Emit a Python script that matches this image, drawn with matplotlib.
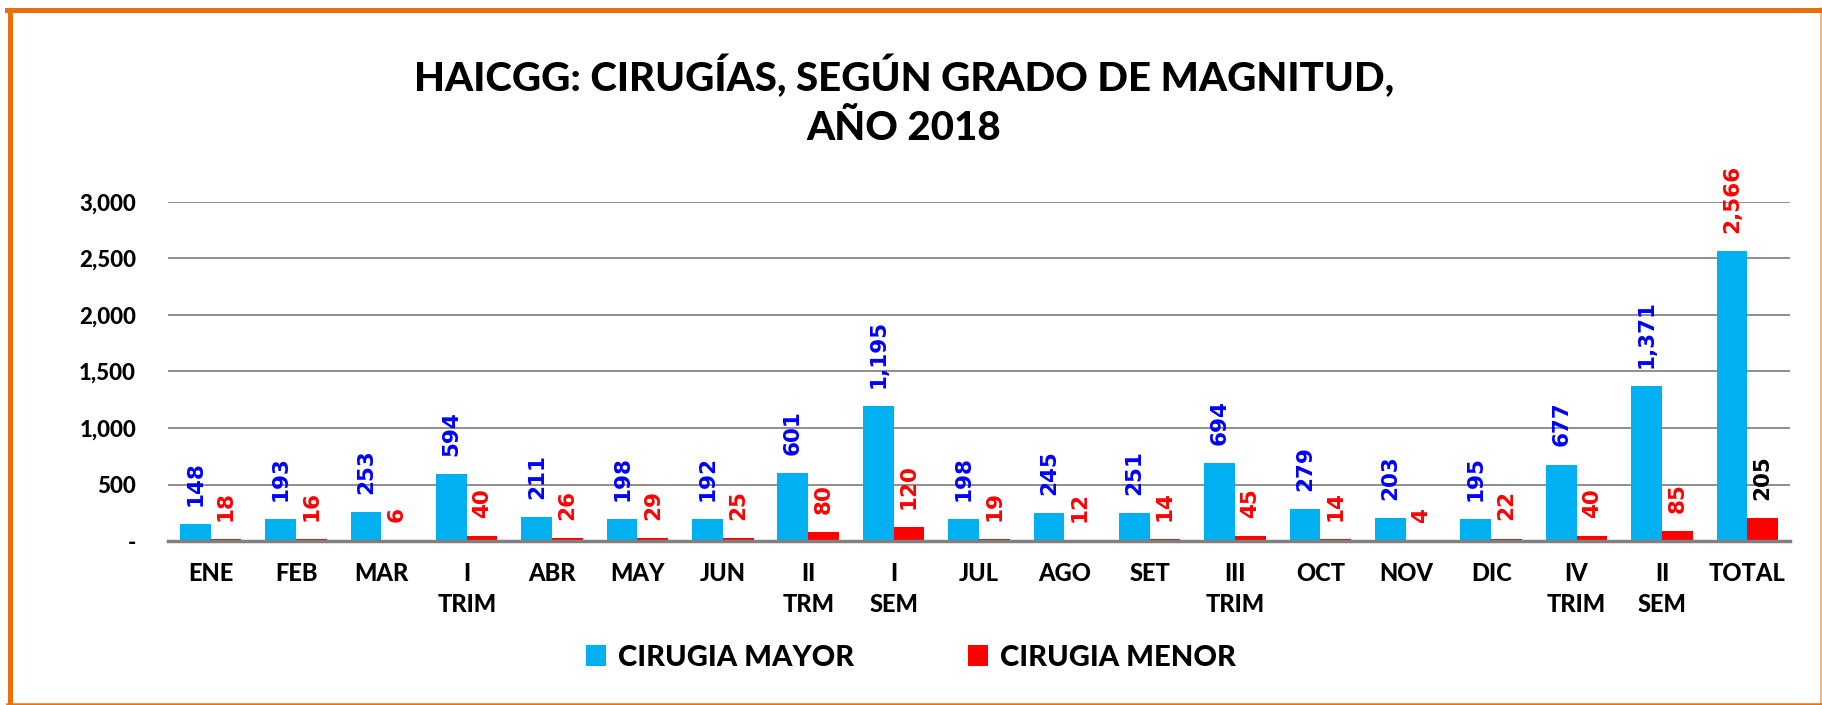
#Cirugias HAICGG 2018 - bar chart

import matplotlib.pyplot as plt
import numpy as np
from matplotlib.ticker import FuncFormatter
from matplotlib.lines import Line2D

#data
categorias = ['ENE', 'FEB', 'MAR', 'I\nTRIM', 'ABR', 'MAY', 'JUN', 'II\nTRM', 'I\nSEM',
              'JUL', 'AGO', 'SET', 'III\nTRIM', 'OCT', 'NOV', 'DIC', 'IV\nTRIM', 'II\nSEM', 'TOTAL']
mayor = [148, 193, 253, 594, 211, 198, 192, 601, 1195,
         198, 245, 251, 694, 279, 203, 195, 677, 1371, 2566]
menor = [18, 16, 6, 40, 26, 29, 25, 80, 120,
         19, 12, 14, 45, 14, 4, 22, 40, 85, 205]

azul = '#00B0F0'
rojo = '#FF0000'
txt_font = 'Lato'
peso = 'black'

fig = plt.figure(figsize=(18.22, 7.05), dpi=100)
ax = fig.add_axes([0.0922, 0.2326, 0.8902, 0.4809])

x = np.arange(len(categorias))
w = 0.36
b1 = ax.bar(x - w/2, mayor, w, color=azul, label='CIRUGIA MAYOR', zorder=3)
b2 = ax.bar(x + w/2, menor, w, color=rojo, label='CIRUGIA MENOR', zorder=3)

#data labels
for i in range(len(categorias)):
    c1 = '#0000FF'
    c2 = rojo
    if i == len(categorias) - 1:
        c1 = rojo
        c2 = 'black'
    ax.annotate(format(mayor[i], ','), (x[i] - w/2, mayor[i]), xytext=(0, 13),
                textcoords='offset points', rotation=90, ha='center', va='bottom',
                color=c1, fontsize=15.5, fontweight='bold', family='DejaVu Sans',
                annotation_clip=False)
    ax.annotate(format(menor[i], ','), (x[i] + w/2, menor[i]), xytext=(0, 13),
                textcoords='offset points', rotation=90, ha='center', va='bottom',
                color=c2, fontsize=15.5, fontweight='bold', family='DejaVu Sans',
                annotation_clip=False)

ax.set_xlim(-0.5, len(categorias) - 0.5)
ax.set_ylim(0, 3000)
ax.set_yticks([0, 500, 1000, 1500, 2000, 2500, 3000])
ax.yaxis.set_major_formatter(FuncFormatter(lambda v, p: '-' if v == 0 else format(int(v), ',')))
ax.grid(axis='y', color='#868686', lw=1.3, zorder=0)
for s in ['top', 'right', 'left']:
    ax.spines[s].set_visible(False)
ax.spines['bottom'].set_color('#808080')
ax.spines['bottom'].set_linewidth(2.5)
ax.spines['bottom'].set_zorder(4)
ax.tick_params(axis='both', length=0)
ax.tick_params(axis='y', pad=23)
ax.tick_params(axis='x', pad=15)
ax.set_xticks(x)
ax.set_xticklabels(categorias, linespacing=1.45)
for t in ax.get_yticklabels():
    t.set_fontfamily(txt_font)
    t.set_fontweight(peso)
    t.set_fontsize(16)
for t in ax.get_xticklabels():
    t.set_fontfamily(txt_font)
    t.set_fontweight(peso)
    t.set_fontsize(17)

fig.text(0.496, 0.891, 'HAICGG: CIRUGÍAS, SEGÚN GRADO DE MAGNITUD,', ha='center', va='center',
         fontsize=29, fontweight=peso, family=txt_font)
fig.text(0.496, 0.818, 'AÑO 2018', ha='center', va='center',
         fontsize=29, fontweight=peso, family=txt_font)

leg = fig.legend(handles=[b1, b2], loc='center', bbox_to_anchor=(0.5, 0.067), ncol=2,
                 frameon=False, handlelength=0.7, handleheight=0.7, handletextpad=0.4,
                 columnspacing=3.9, prop={'family': txt_font, 'weight': peso, 'size': 21})

#orange border
bc = '#E8710A'
fig.add_artist(Line2D([9.5, 9.5], [0, 695.5], transform=None, color=bc, lw=3.6))
fig.add_artist(Line2D([7, 1822], [695.5, 695.5], transform=None, color=bc, lw=3.6))
fig.add_artist(Line2D([1821, 1821], [0, 697], transform=None, color=bc, lw=1.2, alpha=0.6))
fig.add_artist(Line2D([7, 1822], [1.5, 1.5], transform=None, color=bc, lw=1.8))

fig.savefig('out.png', dpi=100)
